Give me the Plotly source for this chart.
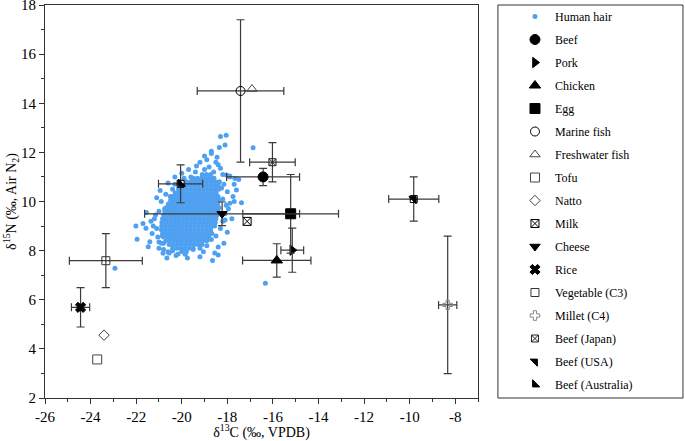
import plotly.graph_objects as go

# ---------------- data ----------------
# Human hair: dense core (rows of y with x values) + scattered points
hair_core_rows = [
    (8.10, [-20.40, -20.22, -20.04, -19.86, -19.68, -19.50]),
    (8.25, [-20.55, -20.37, -20.19, -20.01, -19.83, -19.65, -19.47, -19.29, -19.11]),
    (8.40, [-20.70, -20.52, -20.34, -20.16, -19.98, -19.80, -19.62, -19.44, -19.26, -19.08, -18.90]),
    (8.55, [-20.79, -20.61, -20.43, -20.25, -20.07, -19.89, -19.71, -19.53, -19.35, -19.17, -18.99, -18.81]),
    (8.70, [-20.84, -20.66, -20.48, -20.30, -20.12, -19.94, -19.76, -19.58, -19.40, -19.22, -19.04, -18.86, -18.68]),
    (8.85, [-20.89, -20.71, -20.53, -20.35, -20.17, -19.99, -19.81, -19.63, -19.45, -19.27, -19.09, -18.91, -18.73]),
    (9.00, [-20.88, -20.70, -20.52, -20.34, -20.16, -19.98, -19.80, -19.62, -19.44, -19.26, -19.08, -18.90, -18.72, -18.56]),
    (9.15, [-20.87, -20.69, -20.51, -20.33, -20.15, -19.97, -19.79, -19.61, -19.43, -19.25, -19.07, -18.89, -18.71, -18.53]),
    (9.30, [-20.84, -20.66, -20.48, -20.30, -20.12, -19.94, -19.76, -19.58, -19.40, -19.22, -19.04, -18.86, -18.68, -18.50]),
    (9.45, [-20.79, -20.61, -20.43, -20.25, -20.07, -19.89, -19.71, -19.53, -19.35, -19.17, -18.99, -18.81, -18.63, -18.45]),
    (9.60, [-20.74, -20.56, -20.38, -20.20, -20.02, -19.84, -19.66, -19.48, -19.30, -19.12, -18.94, -18.76, -18.58, -18.42]),
    (9.75, [-20.69, -20.51, -20.33, -20.15, -19.97, -19.79, -19.61, -19.43, -19.25, -19.07, -18.89, -18.71, -18.53, -18.37]),
    (9.90, [-20.59, -20.41, -20.23, -20.05, -19.87, -19.69, -19.51, -19.33, -19.15, -18.97, -18.79, -18.61, -18.43]),
    (10.05, [-20.49, -20.31, -20.13, -19.95, -19.77, -19.59, -19.41, -19.23, -19.05, -18.87, -18.69, -18.51, -18.36]),
    (10.20, [-20.39, -20.21, -20.03, -19.85, -19.67, -19.49, -19.31, -19.13, -18.95, -18.77, -18.59, -18.41]),
    (10.35, [-20.29, -20.11, -19.93, -19.75, -19.57, -19.39, -19.21, -19.03, -18.85, -18.67, -18.49]),
    (10.50, [-20.14, -19.96, -19.78, -19.60, -19.42, -19.24, -19.06, -18.88, -18.70, -18.52, -18.37]),
    (10.65, [-19.99, -19.81, -19.63, -19.45, -19.27, -19.09, -18.91, -18.73, -18.55, -18.40]),
    (10.80, [-19.79, -19.61, -19.43, -19.25, -19.07, -18.89, -18.71, -18.53]),
    (10.95, [-19.49, -19.31, -19.13, -18.95, -18.77, -18.59]),
    (11.10, [-19.10, -18.92, -18.74]),
]
hair_scatter_x = [-18.30, -18.05, -18.10, -18.35, -16.87, -18.70, -18.90, -18.50, -19.20, -18.80,
                  -18.40, -19.00, -19.40, -18.60, -18.20, -17.90, -19.60, -17.70, -17.50, -18.04,
                  -17.89, -17.67, -17.60, -17.38, -17.89, -17.75, -22.01, -21.96, -21.57, -21.47,
                  -21.40, -20.82, -20.89, -20.16, -20.00, -18.40, -16.33, -22.93, -21.20, -21.00,
                  -21.30, -20.90, -20.80, -21.10, -20.85, -20.70, -20.60, -20.40, -19.80, -19.50,
                  -19.20, -18.90, -18.70, -18.50, -18.30, -18.20, -18.10, -18.05, -18.20, -18.25,
                  -18.35, -18.60, -20.40, -20.50, -20.30, -20.10, -19.90, -20.75, -20.80, -20.80,
                  -21.15, -21.05, -21.25, -21.10, -20.95, -21.00, -20.60, -20.30, -20.00, -19.70,
                  -19.35, -19.00, -18.70, -18.45, -18.30, -18.15, -18.00, -17.95, -18.10, -18.00,
                  -18.15, -18.40, -18.55, -19.20, -19.75, -20.25, -20.55, -20.80, -21.00, -21.35,
                  -21.55, -21.70, -17.80, -17.70, -18.65, -19.05, -19.85, -20.65]
hair_scatter_y = [12.65, 12.70, 12.30, 12.20, 12.19, 11.95, 11.70, 11.60, 11.60, 11.40,
                  11.50, 11.30, 11.20, 11.20, 11.10, 11.00, 11.00, 10.70, 10.90, 11.08,
                  11.04, 10.94, 10.47, 9.95, 9.93, 10.20, 9.00, 8.46, 8.91, 8.16,
                  8.36, 7.89, 8.30, 7.86, 7.96, 7.82, 6.67, 7.28, 9.30, 9.60,
                  8.70, 10.00, 9.20, 8.90, 8.60, 10.30, 7.95, 8.00, 7.95, 8.05,
                  8.10, 8.20, 8.45, 8.60, 8.90, 9.20, 9.50, 9.85, 10.10, 10.55,
                  10.80, 10.95, 10.50, 10.20, 10.70, 10.80, 10.95, 9.70, 8.80, 8.30,
                  9.45, 8.55, 9.00, 10.15, 10.45, 8.35, 10.75, 11.00, 11.15, 11.30,
                  11.45, 11.85, 12.05, 11.80, 11.35, 10.70, 10.40, 9.70, 9.25, 8.75,
                  8.30, 8.15, 7.90, 7.75, 7.70, 7.80, 7.90, 8.05, 8.10, 9.20,
                  9.55, 9.10, 9.30, 10.00, 7.60, 7.95, 7.85, 7.70]

# Food sources: mean d13C, mean d15N, SD d13C, SD d15N (None = no error bar)
food_names = ["Beef", "Pork", "Chicken", "Egg", "Marine fish", "Freshwater fish", "Tofu",
              "Natto", "Milk", "Cheese", "Rice", "Vegetable (C3)", "Millet (C4)",
              "Beef (Japan)", "Beef (USA)", "Beef (Australia)"]
food_c = [-16.43, -15.15, -15.83, -15.22, -17.42, -16.92, -23.71,
          -23.41, -17.13, -18.23, -24.44, -23.33, -8.33,
          -16.02, -9.82, -20.05]
food_n = [11.00, 8.02, 7.60, 9.50, 14.50, 14.58, 3.57,
          4.56, 9.19, 9.50, 5.69, 7.59, 5.79,
          11.60, 10.10, 10.72]
food_sd_c = [1.6, 0.5, 1.5, 2.1, 1.9, None, None,
             None, None, 3.4, 0.4, 1.6, 0.4,
             1.0, 1.1, 0.97]
food_sd_n = [0.35, 0.9, 0.68, 1.6, 2.9, None, None,
             None, None, 0.48, 0.8, 1.1, 2.8,
             0.8, 0.9, 0.77]

x_ticks = [-26, -24, -22, -20, -18, -16, -14, -12, -10, -8]
x_tick_labels = ["-26", "-24", "-22", "-20", "-18", "-16", "-14", "-12", "-10", "-8"]
y_ticks = [2, 4, 6, 8, 10, 12, 14, 16, 18]
y_tick_labels = ["2", "4", "6", "8", "10", "12", "14", "16", "18"]

# ---------------- styles ----------------
symbols = {
    "Beef": ("circle", 10, "black"),
    "Pork": ("triangle-right", 9, "black"),
    "Chicken": ("triangle-up", 10, "black"),
    "Egg": ("square", 10, "black"),
    "Marine fish": ("circle-open", 9, "black"),
    "Freshwater fish": ("triangle-up-open", 9, "#444"),
    "Tofu": ("square-open", 9, "#444"),
    "Natto": ("diamond-open", 8, "#444"),
    "Milk": ("square-x-open", 8, "black"),
    "Cheese": ("triangle-down", 9, "black"),
    "Rice": ("x", 9, "black"),
    "Vegetable (C3)": ("square-open", 8, "#333"),
    "Millet (C4)": ("cross-open", 8, "#888"),
    "Beef (Japan)": ("square-x-open", 7, "#222"),
    "Beef (USA)": ("triangle-ne", 8, "black"),
    "Beef (Australia)": ("triangle-sw", 8, "black"),
}

FONT = "Liberation Serif"
ERR_COLOR = "#3a3a3a"

hair_x, hair_y = [], []
for yv, xs in hair_core_rows:
    hair_x.extend(xs)
    hair_y.extend([yv] * len(xs))
hair_x.extend(hair_scatter_x)
hair_y.extend(hair_scatter_y)

fig = go.Figure()
fig.add_trace(go.Scatter(
    x=hair_x, y=hair_y, mode="markers", name="Human hair",
    legendgroup="hair",
    marker=dict(symbol="circle", size=5, color="#4fa0f0", line=dict(width=0)),
))

for i, name in enumerate(food_names):
    sym, size, col = symbols[name]
    ex = food_sd_c[i]
    ey = food_sd_n[i]
    kw = {}
    if ex is not None:
        kw["error_x"] = dict(type="data", array=[ex], visible=True, color=ERR_COLOR,
                             thickness=1.2, width=4)
    if ey is not None:
        kw["error_y"] = dict(type="data", array=[ey], visible=True, color=ERR_COLOR,
                             thickness=1.2, width=4)
    # square outline under half-filled beef symbols
    if name in ("Beef (USA)", "Beef (Australia)"):
        fig.add_trace(go.Scatter(
            x=[food_c[i]], y=[food_n[i]], mode="markers", showlegend=False,
            hoverinfo="skip", legendgroup=name,
            marker=dict(symbol="square-open", size=7, color="black", line=dict(width=1, color="black")),
            **kw,
        ))
        kw = {}
    fig.add_trace(go.Scatter(
        x=[food_c[i]], y=[food_n[i]], mode="markers", name=name,
        legendgroup=name,
        marker=dict(symbol=sym, size=size, color=col, line=dict(width=1, color=col)),
        **kw,
    ))

axis_common = dict(
    showgrid=False, zeroline=False, showline=True, linecolor="#333", linewidth=1,
    mirror=True, ticks="outside", ticklen=5, tickcolor="#333", tickwidth=1,
    tickfont=dict(family=FONT, size=15, color="black"),
    ticklabeloverflow="allow",
)

fig.update_xaxes(
    range=[-26, -7], tickmode="array", tickvals=x_ticks, ticktext=x_tick_labels,
    minor=dict(tickvals=[-25, -23, -21, -19, -17, -15, -13, -11, -9, -7],
               ticks="outside", ticklen=3, tickcolor="#333"),
    title=dict(text="δ<sup>13</sup>C (‰, VPDB)", font=dict(family=FONT, size=14, color="black"),
               standoff=5),
    **axis_common,
)
fig.update_yaxes(
    range=[2, 18], tickmode="array", tickvals=y_ticks, ticktext=y_tick_labels,
    minor=dict(tickvals=[3, 5, 7, 9, 11, 13, 15, 17],
               ticks="outside", ticklen=3, tickcolor="#333"),
    title=dict(text="δ<sup>15</sup>N (‰, Air N<sub>2</sub>)", font=dict(family=FONT, size=14, color="black"),
               standoff=0),
    **axis_common,
)

fig.update_layout(
    width=685, height=441,
    margin=dict(l=45, r=207, t=5, b=43, autoexpand=False),
    paper_bgcolor="white", plot_bgcolor="white",
    font=dict(family=FONT, size=12, color="black"),
    showlegend=True,
    legend=dict(
        x=1.0854, y=1.0076, xanchor="left", yanchor="top", xref="paper", yref="paper",
        bgcolor="rgba(0,0,0,0)", borderwidth=0,
        font=dict(family=FONT, size=12, color="black"),
        tracegroupgap=4, traceorder="grouped", itemsizing="trace",
        maxheight=430,
    ),
    shapes=[dict(type="rect", xref="paper", yref="paper", x0=1.046, x1=1.4734, y0=0, y1=1,
                 line=dict(color="#333", width=1), fillcolor="rgba(0,0,0,0)", layer="above")],
)

fig.write_html("out.html", config={"displayModeBar": False},
               post_script="document.body.style.margin='0px';")
